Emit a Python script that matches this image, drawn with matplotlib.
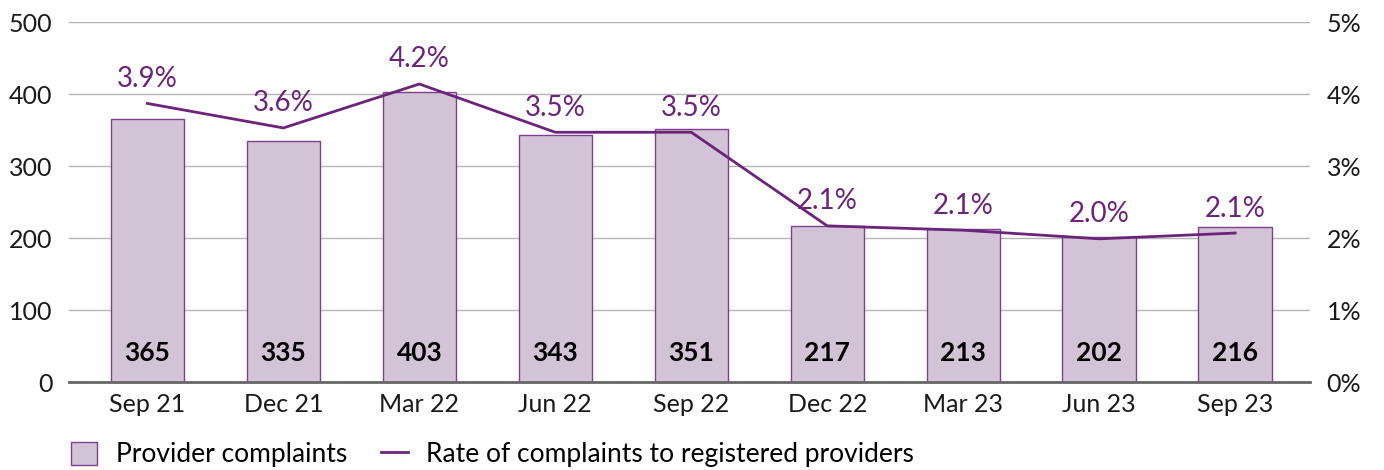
import numpy as np
import matplotlib.pyplot as plt
from matplotlib.patches import Patch
from matplotlib.lines import Line2D
from matplotlib.ticker import FuncFormatter

plt.rcParams['font.family'] = ['Lato', 'DejaVu Sans']

# data
quarters = ['Sep 21', 'Dec 21', 'Mar 22', 'Jun 22', 'Sep 22', 'Dec 22', 'Mar 23', 'Jun 23', 'Sep 23']
complaints = [365, 335, 403, 343, 351, 217, 213, 202, 216]
rate = [3.87, 3.53, 4.14, 3.47, 3.47, 2.17, 2.11, 1.99, 2.07]
rate_labels = ['3.9%', '3.6%', '4.2%', '3.5%', '3.5%', '2.1%', '2.1%', '2.0%', '2.1%']

bar_face = '#d3c3d6'
bar_edge = '#7d3f8e'
line_col = '#6b2479'
grid_col = '#b3b3b3'

fig = plt.figure(figsize=(13.84, 4.70), dpi=100)
ax = fig.add_axes([0.05, 0.187, 0.8965, 0.766])
ax2 = ax.twinx()

x = np.arange(len(quarters))
ax.bar(x, complaints, width=0.54, color=bar_face, edgecolor=bar_edge, linewidth=1.0, zorder=2)
for xi, v in zip(x, complaints):
    ax.text(xi, 40, str(v), ha='center', va='center', fontsize=19, fontweight='bold', color='black', zorder=3)

ax.set_ylim(0, 500)
ax.set_yticks(range(0, 501, 100))
ax.set_xlim(-0.575, 8.55)
ax.set_xticks(x)
ax.set_xticklabels(quarters)
ax.yaxis.grid(True, color=grid_col, linewidth=1.0, zorder=0)
ax.set_axisbelow(True)
for s in ['top', 'right', 'left']:
    ax.spines[s].set_visible(False)
ax.spines['bottom'].set_color('#666666')
ax.spines['bottom'].set_linewidth(2)
ax.tick_params(axis='both', length=0, labelsize=18, colors='#1a1a1a')
ax.tick_params(axis='x', pad=8)
ax.tick_params(axis='y', pad=12)

ax2.plot(x, rate, color=line_col, linewidth=2, zorder=4)
for xi, r, lab in zip(x, rate, rate_labels):
    ax2.text(xi, r + 0.16, lab, ha='center', va='bottom', fontsize=20, color=line_col)
ax2.set_ylim(0, 5)
ax2.set_yticks(range(0, 6))
ax2.yaxis.set_major_formatter(FuncFormatter(lambda v, p: '%d%%' % v))
for s in ['top', 'right', 'left', 'bottom']:
    ax2.spines[s].set_visible(False)
ax2.tick_params(axis='y', length=0, labelsize=18, colors='#1a1a1a', pad=12)

handles = [Patch(facecolor=bar_face, edgecolor=bar_edge, linewidth=1.0),
           Line2D([0], [0], color=line_col, linewidth=2)]
fig.legend(handles, ['Provider complaints', 'Rate of complaints to registered providers'],
           loc='lower left', bbox_to_anchor=(0.034, -0.045), ncol=2, frameon=False,
           fontsize=19, handlelength=1.0, handleheight=1.0, columnspacing=1.3, handletextpad=0.7)

fig.savefig('out.png', dpi=100)
